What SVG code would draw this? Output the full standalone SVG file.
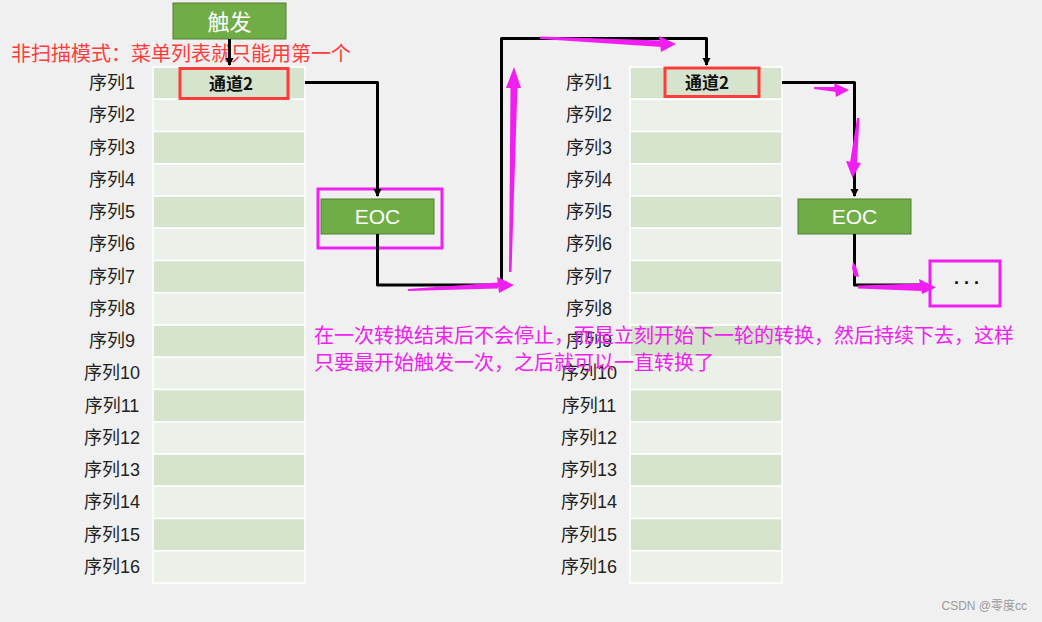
<svg xmlns="http://www.w3.org/2000/svg" width="1042" height="622" viewBox="0 0 1042 622">
<defs>
<style>
.bg{fill:#f0f0f0}
.dk{fill:#d6e3cd;stroke:#ffffff;stroke-width:1.5}
.lt{fill:#ebf0e8;stroke:#ffffff;stroke-width:1.5}
.lbl{font-family:"Liberation Sans","Noto Sans CJK SC",sans-serif;font-size:18px;fill:#222;text-anchor:middle}
.green{fill:#70ad47;stroke:#507e32;stroke-width:1}
.wt{font-family:"Liberation Sans","Noto Sans CJK SC",sans-serif;fill:#ffffff;text-anchor:middle}
.redbox{fill:none;stroke:#ff3b3b;stroke-width:3}
.ch{font-family:"Noto Sans CJK SC",sans-serif;font-size:17px;font-weight:bold;fill:#111;text-anchor:middle}
.mbox{fill:none;stroke:#f01ef0;stroke-width:3}
.conn{fill:none;stroke:#000;stroke-width:3;stroke-linejoin:round}
.mag{fill:#f01ef0;stroke:none}
.note{font-family:"Noto Sans CJK SC",sans-serif;font-size:20px;fill:#ee22ee}
</style>
<marker id="ah" markerWidth="10" markerHeight="10" refX="7" refY="4" orient="auto" markerUnits="userSpaceOnUse">
<path d="M0,0 L8,4 L0,8 Z" fill="#000"/>
</marker>
</defs>
<rect class="bg" x="0" y="0" width="1042" height="622"/>

<g id="table-left">
<rect class="dk" x="153" y="67" width="152" height="32.25"/>
<rect class="lt" x="153" y="99.25" width="152" height="32.25"/>
<rect class="dk" x="153" y="131.5" width="152" height="32.25"/>
<rect class="lt" x="153" y="163.75" width="152" height="32.25"/>
<rect class="dk" x="153" y="196" width="152" height="32.25"/>
<rect class="lt" x="153" y="228.25" width="152" height="32.25"/>
<rect class="dk" x="153" y="260.5" width="152" height="32.25"/>
<rect class="lt" x="153" y="292.75" width="152" height="32.25"/>
<rect class="dk" x="153" y="325" width="152" height="32.25"/>
<rect class="lt" x="153" y="357.25" width="152" height="32.25"/>
<rect class="dk" x="153" y="389.5" width="152" height="32.25"/>
<rect class="lt" x="153" y="421.75" width="152" height="32.25"/>
<rect class="dk" x="153" y="454" width="152" height="32.25"/>
<rect class="lt" x="153" y="486.25" width="152" height="32.25"/>
<rect class="dk" x="153" y="518.5" width="152" height="32.25"/>
<rect class="lt" x="153" y="550.75" width="152" height="32.25"/>
<text class="lbl" x="112" y="89">序列1</text>
<text class="lbl" x="112" y="121.3">序列2</text>
<text class="lbl" x="112" y="153.5">序列3</text>
<text class="lbl" x="112" y="185.8">序列4</text>
<text class="lbl" x="112" y="218">序列5</text>
<text class="lbl" x="112" y="250.3">序列6</text>
<text class="lbl" x="112" y="282.5">序列7</text>
<text class="lbl" x="112" y="314.8">序列8</text>
<text class="lbl" x="112" y="347">序列9</text>
<text class="lbl" x="112" y="379.3">序列10</text>
<text class="lbl" x="112" y="411.5">序列11</text>
<text class="lbl" x="112" y="443.8">序列12</text>
<text class="lbl" x="112" y="476">序列13</text>
<text class="lbl" x="112" y="508.3">序列14</text>
<text class="lbl" x="112" y="540.5">序列15</text>
<text class="lbl" x="112" y="572.8">序列16</text>
</g>

<g id="table-right">
<rect class="dk" x="630" y="67" width="152" height="32.25"/>
<rect class="lt" x="630" y="99.25" width="152" height="32.25"/>
<rect class="dk" x="630" y="131.5" width="152" height="32.25"/>
<rect class="lt" x="630" y="163.75" width="152" height="32.25"/>
<rect class="dk" x="630" y="196" width="152" height="32.25"/>
<rect class="lt" x="630" y="228.25" width="152" height="32.25"/>
<rect class="dk" x="630" y="260.5" width="152" height="32.25"/>
<rect class="lt" x="630" y="292.75" width="152" height="32.25"/>
<rect class="dk" x="630" y="325" width="152" height="32.25"/>
<rect class="lt" x="630" y="357.25" width="152" height="32.25"/>
<rect class="dk" x="630" y="389.5" width="152" height="32.25"/>
<rect class="lt" x="630" y="421.75" width="152" height="32.25"/>
<rect class="dk" x="630" y="454" width="152" height="32.25"/>
<rect class="lt" x="630" y="486.25" width="152" height="32.25"/>
<rect class="dk" x="630" y="518.5" width="152" height="32.25"/>
<rect class="lt" x="630" y="550.75" width="152" height="32.25"/>
<text class="lbl" x="589" y="89">序列1</text>
<text class="lbl" x="589" y="121.3">序列2</text>
<text class="lbl" x="589" y="153.5">序列3</text>
<text class="lbl" x="589" y="185.8">序列4</text>
<text class="lbl" x="589" y="218">序列5</text>
<text class="lbl" x="589" y="250.3">序列6</text>
<text class="lbl" x="589" y="282.5">序列7</text>
<text class="lbl" x="589" y="314.8">序列8</text>
<text class="lbl" x="589" y="347">序列9</text>
<text class="lbl" x="589" y="379.3">序列10</text>
<text class="lbl" x="589" y="411.5">序列11</text>
<text class="lbl" x="589" y="443.8">序列12</text>
<text class="lbl" x="589" y="476">序列13</text>
<text class="lbl" x="589" y="508.3">序列14</text>
<text class="lbl" x="589" y="540.5">序列15</text>
<text class="lbl" x="589" y="572.8">序列16</text>
</g>

<g id="trigger">
<rect class="green" x="173" y="3" width="113" height="36"/>
<text class="wt" x="229.5" y="29.5" font-size="22">触发</text>
</g>

<g id="title-red">
<text x="11" y="61" font-family="Noto Sans CJK SC, sans-serif" font-size="20" fill="#ff3b3b">非扫描模式：菜单列表就只能用第一个</text>
</g>

<g id="channel-left">
<rect class="redbox" x="180" y="68.5" width="108" height="30"/>
<text class="ch" x="231" y="89.5">通道2</text>
</g>

<g id="channel-right">
<rect class="redbox" x="665" y="68" width="94" height="28.5"/>
<text class="ch" x="707" y="89">通道2</text>
</g>

<g id="eoc-left">
<rect class="mbox" x="318" y="189" width="124" height="59"/>
<rect class="green" x="321" y="199" width="113" height="35"/>
<text class="wt" x="377.5" y="224" font-size="21">EOC</text>
</g>

<g id="eoc-right">
<rect class="green" x="798" y="199" width="113" height="35"/>
<text class="wt" x="854.5" y="224" font-size="21">EOC</text>
</g>

<g id="more">
<rect class="mbox" x="930" y="261" width="70" height="45"/>
<text x="969" y="289" font-family="Liberation Sans, sans-serif" font-size="18" font-weight="bold" fill="#111" text-anchor="middle" letter-spacing="4">···</text>
</g>

<g id="connectors">
<path class="conn" d="M229.5,39 L229.5,65" marker-end="url(#ah)"/>
<path class="conn" d="M305,82.5 L377.5,82.5 L377.5,196" marker-end="url(#ah)"/>
<path class="conn" d="M377.5,234 L377.5,285 L501.5,285 L501.5,38.5 L706.5,38.5 L706.5,65" marker-end="url(#ah)"/>
<path class="conn" d="M782,82.5 L854.5,82.5 L854.5,196" marker-end="url(#ah)"/>
<path class="conn" d="M854.5,234 L854.5,285 L928,285"/>
</g>

<g id="magenta-arrows">
<path class="mag" d="M408,289 L498,282.5 L498,288.5 L408,291 Z"/>
<path class="mag" d="M497,277 L514,285 L499,293 Z"/>
<path class="mag" d="M509,272 L511.5,272 L517.5,85 L510.5,85 Z"/>
<path class="mag" d="M506,88 L514,67 L521,88 Z"/>
<path class="mag" d="M540,36.5 L662,40.5 L662,47 L540,39 Z"/>
<path class="mag" d="M659,36 L676,44 L661,52 Z"/>
<path class="mag" d="M814,87 L836,87 L836,92 L814,89 Z"/>
<path class="mag" d="M834,83 L849,90 L836,97 Z"/>
<path class="mag" d="M857,118 L859.5,118 L857,163 L850,163 Z"/>
<path class="mag" d="M846,161 L852.5,178 L861,163 Z"/>
<path class="mag" d="M853,262 L856,266 L859,277 L854,276 L852,268 Z"/>
<path class="mag" d="M858,285.5 L921,283.5 L921,291 L858,288.5 Z"/>
<path class="mag" d="M919,279 L936,287.5 L922,294 Z"/>
</g>

<g id="note">
<text class="note" x="314" y="343">在一次转换结束后不会停止，而是立刻开始下一轮的转换，然后持续下去，这样</text>
<text class="note" x="314" y="370">只要最开始触发一次，之后就可以一直转换了</text>
</g>

<g id="watermark">
<text x="1027" y="610" font-family="Liberation Sans, Noto Sans CJK SC, sans-serif" font-size="12" fill="#9a9a9a" text-anchor="end">CSDN @零度cc</text>
</g>
</svg>
